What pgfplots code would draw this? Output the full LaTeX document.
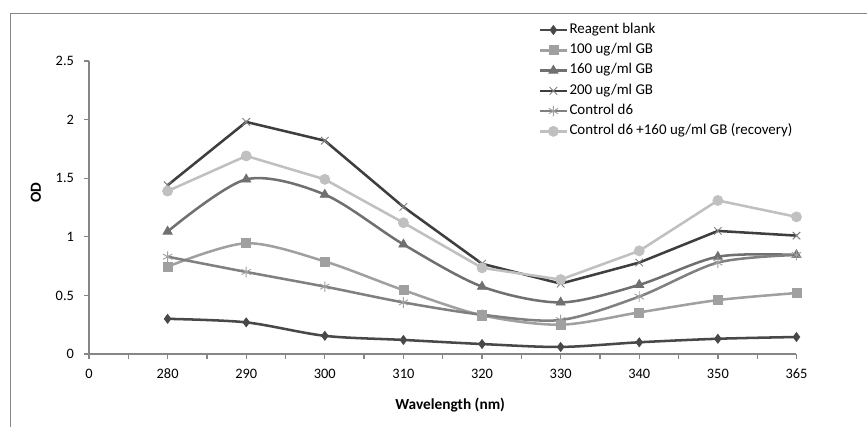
\documentclass[border=0pt]{standalone}
\usepackage{fontspec}
\setmainfont{Carlito}
\usepackage{pgfplots}
\pgfplotsset{compat=1.18}

\definecolor{axgray}{RGB}{134,134,134}
\definecolor{cblank}{RGB}{72,72,72}
\definecolor{cone}{RGB}{160,160,160}
\definecolor{csix}{RGB}{112,112,112}
\definecolor{ctwo}{RGB}{62,62,62}
\definecolor{cctrl}{RGB}{128,128,128}
\definecolor{crec}{RGB}{192,192,192}

\begin{document}
\begin{tikzpicture}
% page = 867x427 px, 1px = 0.75pt, origin at the axis corner (89,354)
\useasboundingbox (-66.75pt,-54.75pt) rectangle (583.5pt,265.5pt);
\draw[axgray, line width=0.9pt] (-58.9pt,-60pt) -- (-58.9pt,255.5pt) -- (590pt,255.5pt);
\begin{axis}[
  scale only axis,
  width=530.6pt, height=219.75pt,
  xmin=0, xmax=9, ymin=0, ymax=2.5,
  axis x line=bottom, axis y line=left,
  axis line style={-, draw=axgray, line width=1pt},
  xtick={0,...,9},
  xticklabels={0,280,290,300,310,320,330,340,350,365},
  minor xtick={0.5,1.5,...,8.5},
  ytick={0,0.5,...,2.5},
  yticklabels={0,0.5,1,1.5,2,2.5},
  tick align=outside,
  major tick length=3.75pt, minor tick length=3.75pt,
  tick style={draw=axgray, line width=1pt},
  every tick label/.append style={font=\fontsize{10.8}{12}\selectfont},
  xticklabel style={yshift=-4pt},
  yticklabel style={xshift=-4pt},
  xlabel={\textbf{Wavelength (nm)}},
  ylabel={\textbf{OD}},
  label style={font=\fontsize{11.5}{13}\selectfont},
  xlabel style={at={(axis description cs:0.5105,0)}, anchor=center, yshift=-38.25pt},
  ylabel style={at={(axis description cs:-0.0749,0.5512)}, anchor=center},
  clip=false,
  legend cell align=left,
  legend image code/.code={
    \draw[mark repeat=2,mark phase=2] plot coordinates {(0pt,0pt) (10.1pt,0pt) (20.25pt,0pt)};
  },
  legend style={draw=none, fill=none, inner sep=0pt, outer sep=0pt,
    at={(0.6356,1.1307)}, anchor=north west, row sep=4.2pt,
    nodes={text height=7pt, text depth=2pt, inner sep=1pt},
    font=\fontsize{11.2}{13}\selectfont},
  every axis plot/.append style={line width=1.9pt},
]
\addplot[color=cblank, smooth, mark=diamond*, mark size=3.4pt, mark options={fill=cblank, line width=0.5pt}] coordinates {
  (1,0.30) (2,0.27) (3,0.155) (4,0.12) (5,0.085) (6,0.06) (7,0.10) (8,0.13) (9,0.145)
};
\addlegendentry{Reagent blank}
\addplot[color=cone, smooth, mark=square*, mark size=3.4pt, mark options={fill=cone, line width=0.5pt}] coordinates {
  (1,0.745) (2,0.945) (3,0.79) (4,0.545) (5,0.33) (6,0.25) (7,0.355) (8,0.46) (9,0.52)
};
\addlegendentry{100 ug/ml GB}
\addplot[color=csix, smooth, mark=triangle*, mark size=4pt, mark options={fill=csix, line width=0.5pt}] coordinates {
  (1,1.045) (2,1.49) (3,1.36) (4,0.935) (5,0.575) (6,0.44) (7,0.59) (8,0.83) (9,0.845)
};
\addlegendentry{160 ug/ml GB}
\addplot[color=ctwo, mark=x, mark size=4pt, mark options={draw=cctrl, line width=0.7pt}] coordinates {
  (1,1.44) (2,1.98) (3,1.82) (4,1.255) (5,0.77) (6,0.60) (7,0.78) (8,1.05) (9,1.01)
};
\addlegendentry{200 ug/ml GB}
\addplot[color=cctrl, smooth, mark=asterisk, mark size=4pt, mark options={draw=cone, line width=0.7pt}] coordinates {
  (1,0.83) (2,0.70) (3,0.575) (4,0.44) (5,0.335) (6,0.29) (7,0.49) (8,0.78) (9,0.845)
};
\addlegendentry{Control d6}
\addplot[color=crec, mark=*, mark size=3.8pt, mark options={fill=crec, draw=crec, line width=0.5pt}] coordinates {
  (1,1.39) (2,1.69) (3,1.49) (4,1.12) (5,0.735) (6,0.635) (7,0.88) (8,1.31) (9,1.17)
};
\addlegendentry{Control d6 +160 ug/ml GB (recovery)}
\end{axis}
\end{tikzpicture}
\end{document}
